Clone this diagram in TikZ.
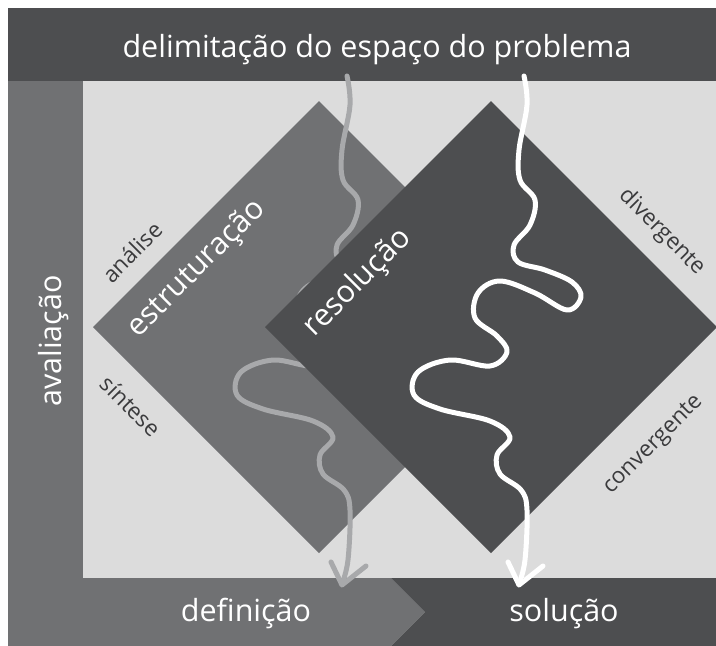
\documentclass[tikz,border=0pt]{standalone}
\usepackage{fontspec}
\setsansfont{Open Sans}
\usepackage{xcolor}
\usepackage{tikz}
\usetikzlibrary{arrows.meta}

\definecolor{bardark}{HTML}{4D4E50}
\definecolor{barmid}{HTML}{707173}
\definecolor{fieldlight}{HTML}{DCDCDC}
\definecolor{trailgrey}{HTML}{A8A9AB}
\definecolor{labelink}{HTML}{3A3A3C}

\tikzset{
  wiggle/.pic={
    \draw[trail] plot[smooth, tension=0.6] coordinates {
      (0,0) (3,29) (-5,74) (-4,104) (11,124) (6,149) (-10,169) (-6,186)
      (21,194) (48,206) (57,221) (43,234) (11,217) (-24,205) (-46,217)
      (-49,242) (-27,260) (-17,276) (-34,290) (-74,284) (-106,296)
      (-110,319) (-84,333) (-34,345) (-14,361) (-27,379) (-24,398)
      (-3,414) (3,434) (1,484) (-5,508)};
    \draw[trail] (-16,486) -- (-5,509) -- (19,490);
  }
}

\begin{document}
\begin{tikzpicture}[
  x=1pt, y=-1pt,
  font=\sffamily,
  bigword/.style={text=white, inner sep=0pt,
    font=\sffamily\fontsize{30.5}{36}\selectfont},
  sideword/.style={text=labelink, inner sep=0pt,
    font=\sffamily\fontsize{22.5}{27}\selectfont},
  trail/.style={line width=5pt, line cap=round, line join=round}
]
  \useasboundingbox (0,0) rectangle (716,646);

  % frame
  \fill[fieldlight] (83,81) rectangle (716,578);
  \fill[bardark] (8,8) rectangle (716,81);
  \fill[barmid] (8,81) rectangle (83,646);
  \fill[barmid] (83,578) -- (391,578) -- (425,612) -- (391,646) -- (83,646) -- cycle;
  \fill[bardark] (391,578) -- (716,578) -- (716,646) -- (391,646) -- (425,612) -- cycle;

  % diamonds and trails
  \fill[barmid] (319,101) -- (545,327) -- (319,553) -- (93,327) -- cycle;
  \pic[trailgrey] at (347,76) {wiggle};
  \fill[bardark] (491,101) -- (717,327) -- (491,553) -- (265,327) -- cycle;
  \pic[white] at (524,76) {wiggle};

  % labels
  \node[bigword, anchor=base] (title) at (377,57.5) {delimitação do espaço do problema};
  \node[bigword, anchor=base, rotate=90] (evaluation) at (61,341) {avaliação};
  \node[bigword, anchor=base] (definition) at (246,621) {definição};
  \node[bigword, anchor=base] (solution) at (564,621) {solução};
  \node[bigword, rotate=45] (structuring) at (197,269) {estruturação};
  \node[bigword, rotate=45] (resolving) at (358,283) {resolução};
  \node[sideword, rotate=45] (analysis) at (132,252) {análise};
  \node[sideword, rotate=-45] (synthesis) at (131,406) {síntese};
  \node[sideword, rotate=-45] (diverging) at (662,232) {divergente};
  \node[sideword, rotate=45] (converging) at (654,445) {convergente};
\end{tikzpicture}
\end{document}
